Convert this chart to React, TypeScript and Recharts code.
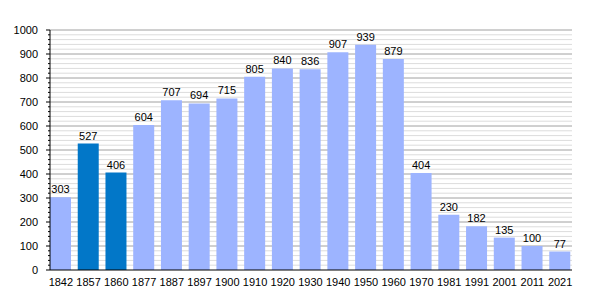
import { BarChart, Bar, XAxis, YAxis, CartesianGrid, Cell, LabelList } from 'recharts'

const years = ['1842', '1857', '1860', '1877', '1887', '1897', '1900', '1910', '1920', '1930', '1940', '1950', '1960', '1970', '1981', '1991', '2001', '2011', '2021']
const population = [303, 527, 406, 604, 707, 694, 715, 805, 840, 836, 907, 939, 879, 404, 230, 182, 135, 100, 77]
const highlighted = ['1857', '1860']

const majorTicks = [0, 100, 200, 300, 400, 500, 600, 700, 800, 900, 1000]
const minorTicks = [
    20, 40, 60, 80, 120, 140, 160, 180, 220, 240, 260, 280, 320, 340, 360, 380,
    420, 440, 460, 480, 520, 540, 560, 580, 620, 640, 660, 680, 720, 740, 760, 780,
    820, 840, 860, 880, 920, 940, 960, 980,
]
const allTicks = [...majorTicks, ...minorTicks].sort((a, b) => a - b)

const data = years.map((year, i) => ({ year, value: population[i] }))

const FONT = '"Liberation Sans", Arial, sans-serif'

function YTick(props: any) {
    const { x, y, payload } = props
    const major = payload.value % 100 === 0
    return (
        <g>
            <line x1={major ? 46 : 48} x2={50} y1={y} y2={y} stroke="#000" strokeWidth={1} />
            {major && (
                <text x={38} y={y} dy={4} textAnchor="end" fontSize={11} fill="#000" fontFamily={FONT}>
                    {payload.value}
                </text>
            )}
        </g>
    )
}

export default function App() {
    return (
        <div style={{ position: 'absolute', left: 0, top: 0, width: 600, height: 300, background: '#fff' }}>
            <BarChart
                width={600}
                height={300}
                data={data}
                margin={{ top: 30, right: 28, bottom: 0, left: 0 }}
                barSize={21}
            >
                <CartesianGrid vertical={false} horizontalValues={minorTicks} stroke="#dcdcdc" />
                <CartesianGrid vertical={false} horizontalValues={majorTicks.slice(1)} stroke="#a0a0a0" />
                <XAxis
                    dataKey="year"
                    height={30}
                    interval={0}
                    padding={{ left: -3, right: -2 }}
                    tickLine={false}
                    axisLine={{ stroke: '#000' }}
                    tick={{ fill: '#000', fontSize: 11, fontFamily: FONT }}
                    tickMargin={2}
                />
                <YAxis
                    width={50}
                    domain={[0, 1000]}
                    ticks={allTicks}
                    interval={0}
                    tickLine={false}
                    axisLine={{ stroke: '#000' }}
                    tick={<YTick />}
                />
                <Bar dataKey="value" isAnimationActive={false}>
                    {data.map((d) => (
                        <Cell key={d.year} fill={highlighted.includes(d.year) ? '#0277c8' : '#9db4ff'} />
                    ))}
                    <LabelList
                        dataKey="value"
                        position="top"
                        offset={4}
                        style={{ fill: '#000', fontSize: 11, fontFamily: FONT }}
                    />
                </Bar>
            </BarChart>
        </div>
    )
}
